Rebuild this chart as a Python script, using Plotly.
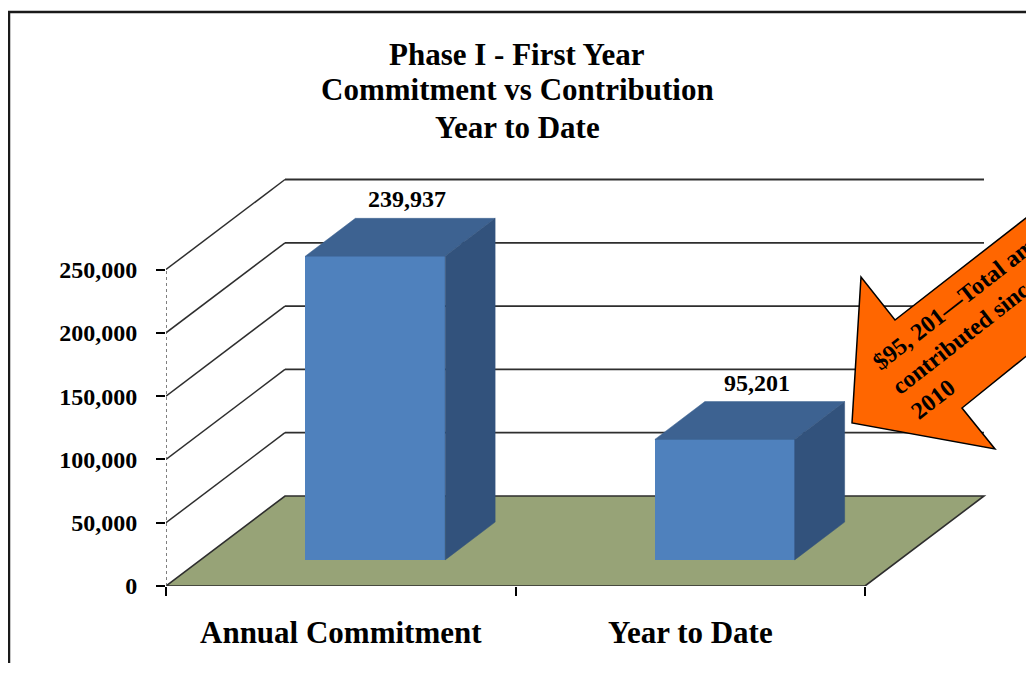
import plotly.graph_objects as go

# ---------------- data ----------------
categories = ["Annual Commitment", "Year to Date"]
values = [239937, 95201]
y_ticks = [0, 50000, 100000, 150000, 200000, 250000]
title_lines = ["Phase I - First Year", "Commitment vs Contribution", "Year to Date"]
callout_text = "$95, 201\u2014Total amount<br>contributed since<br>2010"

# ---------------- geometry / style ----------------
OFF = 8                              # default page margin of the html body
W, H = 1034 - OFF, 675 - 2 * OFF - 4
ML, MT = 166 - OFF, 150 - OFF
PLOT_RIGHT, PLOT_BOTTOM = 1000 - OFF, 586 - OFF
MR, MB = W - PLOT_RIGHT, H - PLOT_BOTTOM
PW, PH = PLOT_RIGHT - ML, PLOT_BOTTOM - MT
SLOT_PX = 349.5                     # pixels per category slot
UNITS_PER_PX = 50000 / 63.3         # value units per pixel
XMAX = PW / SLOT_PX
YMAX = PH * UNITS_PER_PX
DX = 119 / SLOT_PX                  # depth offset (x units)
DY = 90 * UNITS_PER_PX              # depth offset (value units)
F0, F1 = 0.29, 0.71                 # bar depth span (fraction of floor depth)
BAR_W = 0.40

FONT = "Liberation Serif"
FRONT = "#4F81BD"
TOP = "#3D6291"
SIDE = "#32527C"
FLOOR = "#97A377"
GRID = "#2e2e2e"


def px_to_paper(px, py):
    """page pixel -> paper coordinates"""
    return (px - OFF - ML) / PW, (MT + PH - (py - OFF)) / PH


fig = go.Figure()
shapes = []

n = len(categories)
# floor (data coordinates, drawn below traces)
floor_pts = [(0, 0), (n, 0), (n + DX, DY), (DX, DY)]
shapes.append(dict(
    type="path", xref="x", yref="y", layer="below",
    path="M " + " L ".join(f"{a},{b}" for a, b in floor_pts) + " Z",
    fillcolor=FLOOR, line=dict(color=GRID, width=1.6)))
# back wall gridlines and left wall diagonals
for v in y_ticks:
    if v > 0:
        shapes.append(dict(type="line", xref="x", yref="y", layer="below",
                           x0=DX, y0=v + DY, x1=n + DX, y1=v + DY,
                           line=dict(color=GRID, width=1.8)))
        shapes.append(dict(type="line", xref="x", yref="y", layer="below",
                           x0=0, y0=v, x1=DX, y1=v + DY,
                           line=dict(color=GRID, width=1.5)))
# front vertical axis (dotted)
shapes.append(dict(type="line", xref="x", yref="y", layer="below",
                   x0=0, y0=0, x1=0, y1=y_ticks[-1],
                   line=dict(color="#555555", width=1.5, dash="dot")))


def poly(xs, ys, fill):
    fig.add_trace(go.Scatter(
        x=xs + [xs[0]], y=ys + [ys[0]], mode="lines", fill="toself",
        fillcolor=fill, line=dict(color=fill, width=0.5),
        hoverinfo="skip", showlegend=False))


# bars: front faces via Bar, top and side faces as polygons
base = F0 * DY
bdx = (F1 - F0) * DX
bdy = (F1 - F0) * DY
xc = [i + 0.5 + F0 * DX for i in range(n)]
fig.add_trace(go.Bar(x=xc, y=values, base=[base] * n, width=BAR_W,
                     marker=dict(color=FRONT, line=dict(width=0)),
                     hoverinfo="skip", showlegend=False))
for x, v in zip(xc, values):
    xl, xr = x - BAR_W / 2, x + BAR_W / 2
    top = base + v
    poly([xl, xr, xr + bdx, xl + bdx], [top, top, top + bdy, top + bdy], TOP)
    poly([xr, xr, xr + bdx, xr + bdx], [base, top, top + bdy, base + bdy], SIDE)

annotations = []
# value labels
for x, v in zip(xc, values):
    annotations.append(dict(
        x=x + bdx / 2 + 0.02, y=base + v + bdy, xref="x", yref="y",
        text=f"{v:,}", showarrow=False, yanchor="bottom", yshift=4,
        font=dict(family=FONT, size=24, color="black", weight="bold")))
# category labels
for i, c in enumerate(categories):
    annotations.append(dict(
        x=i + 0.5, y=0, xref="x", yref="y", text=c, showarrow=False,
        yanchor="middle", yshift=-46,
        font=dict(family=FONT, size=31, color="black", weight="bold")))
# title lines
for t, py in zip(title_lines, [55, 90, 127]):
    px, pyp = px_to_paper(517, py)
    annotations.append(dict(
        x=px, y=pyp, xref="paper", yref="paper", text=t, showarrow=False,
        xanchor="center", yanchor="middle",
        font=dict(family=FONT, size=31, color="black", weight="bold")))
# callout text
cx, cy = px_to_paper(991, 314)
annotations.append(dict(
    x=cx, y=cy, xref="paper", yref="paper", text=callout_text, showarrow=False,
    xanchor="center", yanchor="middle", textangle=-38, align="left",
    font=dict(family=FONT, size=24, color="black", weight="bold")))

# callout arrow (page pixel outline -> paper)
arrow_px = [(852, 423), (861, 277), (895, 320), (1130, 137), (1200, 216),
            (962, 408), (995, 449)]
pts = [px_to_paper(a, b) for a, b in arrow_px]
path = "M " + " L ".join(f"{a:.5f},{b:.5f}" for a, b in pts) + " Z"
bx0, by0 = px_to_paper(OFF + 1, 12)
bx1, by1 = px_to_paper(1100, 720)
shapes += [
    dict(type="path", xref="paper", yref="paper", path=path,
         fillcolor="#FF6600", line=dict(color="black", width=1.5), layer="above"),
    dict(type="rect", xref="paper", yref="paper", x0=bx0, y0=by0, x1=bx1, y1=by1,
         line=dict(color="#1a1a1a", width=2.5), fillcolor="rgba(0,0,0,0)",
         layer="above"),
]

fig.update_layout(
    width=W, height=H,
    margin=dict(l=ML, r=MR, t=MT, b=MB, autoexpand=False),
    paper_bgcolor="white", plot_bgcolor="white",
    showlegend=False, bargap=0,
    annotations=annotations, shapes=shapes,
    xaxis=dict(range=[0, XMAX], showgrid=False, zeroline=False, showline=False,
               tickvals=[0, 1, 2], ticks="outside", ticklen=9, tickwidth=2,
               tickcolor="black", showticklabels=False, fixedrange=True),
    yaxis=dict(range=[0, YMAX], showgrid=False, zeroline=False, showline=False,
               tickvals=y_ticks, tickformat=",", ticks="outside", ticklen=9,
               tickwidth=2, tickcolor="black", ticklabelstandoff=14,
               tickfont=dict(family=FONT, size=24, color="black", weight="bold"),
               fixedrange=True),
)

fig.write_html("out.html")
